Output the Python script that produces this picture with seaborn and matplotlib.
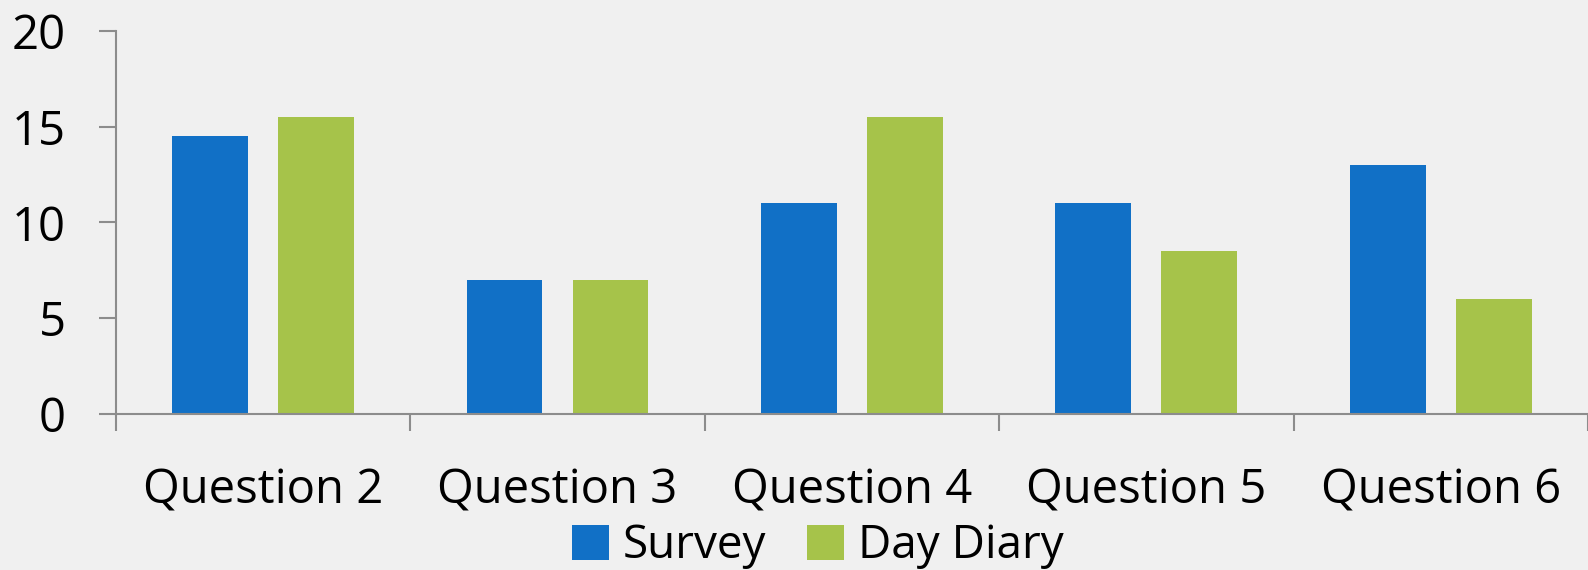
import matplotlib
matplotlib.use('Agg')
import matplotlib.pyplot as plt
import seaborn as sns
import pandas as pd

# Data
questions = ['Question 2', 'Question 3', 'Question 4', 'Question 5', 'Question 6']
survey = [14.5, 7, 11, 11, 13]
day_diary = [15.5, 7, 15.5, 8.5, 6]

df = pd.DataFrame({
    'question': questions * 2,
    'value': survey + day_diary,
    'series': ['Survey'] * len(questions) + ['Day Diary'] * len(questions),
})

bg = '#f0f0f0'
axis_col = '#8c8c8c'

sns.set_theme(style='white')
plt.rcParams['font.family'] = ['Open Sans', 'DejaVu Sans']
plt.rcParams['text.color'] = 'black'

fig = plt.figure(figsize=(15.88, 5.70), dpi=100, facecolor=bg)
ax = fig.add_axes([0.073, 0.274, 0.927, 0.672])
ax.set_facecolor(bg)

sns.barplot(data=df, x='question', y='value', hue='series',
            palette={'Survey': '#1170c6', 'Day Diary': '#a6c34a'},
            saturation=1, linewidth=0,
            width=0.72, gap=0.285, ax=ax, legend=True)

ax.set_ylim(0, 20)
ax.set_yticks([0, 5, 10, 15, 20])
ax.set_xlim(-0.5, 4.5)
ax.set_xlabel('')
ax.set_ylabel('')

for s in ['top', 'right']:
    ax.spines[s].set_visible(False)
for s in ['left', 'bottom']:
    ax.spines[s].set_color(axis_col)
    ax.spines[s].set_linewidth(1.5)

ax.tick_params(axis='y', length=12, width=1.5, color=axis_col, labelsize=34,
               labelcolor='black', pad=24, left=True)
ax.tick_params(axis='x', length=0, labelsize=34, labelcolor='black', pad=38)

# ticks at category boundaries
ax.set_xticks([-0.5, 0.5, 1.5, 2.5, 3.5, 4.5], minor=True)
ax.tick_params(axis='x', which='minor', length=12, width=1.5, color=axis_col, bottom=True)

handles, labels = ax.get_legend_handles_labels()
ax.legend(handles, labels, loc='center', bbox_to_anchor=(0.515, 0.042),
          bbox_transform=fig.transFigure,
          ncol=2, frameon=False, fontsize=33, handlelength=0.8, handleheight=0.8,
          handletextpad=0.3, columnspacing=0.9, borderpad=0)

fig.savefig('out.png', dpi=100, facecolor=bg)
